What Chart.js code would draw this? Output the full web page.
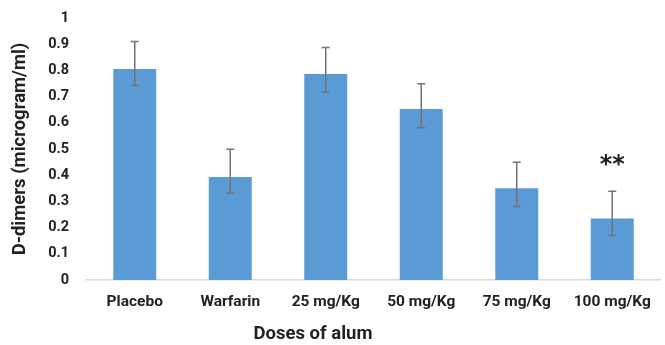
<!DOCTYPE html>
<html>
<head>
<meta charset="utf-8">
<script src="https://cdn.jsdelivr.net/npm/chart.js@4.4.0/dist/chart.umd.min.js"></script>
<style>
  html, body { margin: 0; padding: 0; background: #fff; }
  #wrap { width: 665px; height: 345px; }
</style>
</head>
<body>
<div id="wrap"><canvas id="ddimers" width="665" height="345"></canvas></div>
<script>
var categories = ["Placebo", "Warfarin", "25 mg/Kg", "50 mg/Kg", "75 mg/Kg", "100 mg/Kg"];
var means = [0.805, 0.393, 0.786, 0.653, 0.35, 0.235];
var errUpper = [0.91, 0.499, 0.887, 0.749, 0.449, 0.339];
var errLower = [0.742, 0.331, 0.718, 0.581, 0.281, 0.17];
var marks = ["", "", "", "", "", "**"];
var yTitle = "D-dimers (microgram/ml)";
var xTitle = "Doses of alum";

var FONT = "Roboto, 'DejaVu Sans', sans-serif";

// error bars + significance stars
var errorBars = {
    id: "errorBars",
    afterDatasetsDraw: function(chart) {
        var ctx = chart.ctx;
        var yScale = chart.scales.y;
        var meta = chart.getDatasetMeta(0);
        ctx.save();
        ctx.strokeStyle = "#737373";
        ctx.lineWidth = 1.5;
        meta.data.forEach(function(bar, i) {
            var x = bar.x;
            var yTop = yScale.getPixelForValue(errUpper[i]);
            var yBot = yScale.getPixelForValue(errLower[i]);
            ctx.beginPath();
            ctx.moveTo(x, yTop);
            ctx.lineTo(x, yBot);
            ctx.moveTo(x - 4, yTop);
            ctx.lineTo(x + 4, yTop);
            ctx.moveTo(x - 4, yBot);
            ctx.lineTo(x + 4, yBot);
            ctx.stroke();
            if (marks[i]) {
                ctx.fillStyle = "#222";
                ctx.font = "bold 24px 'DejaVu Sans', sans-serif";
                ctx.textAlign = "center";
                ctx.textBaseline = "middle";
                ctx.fillText(marks[i], x, yTop - 25);
            }
        });
        ctx.restore();
    }
};

// x axis title, centred a bit left like the original
var xAxisTitle = {
    id: "xAxisTitle",
    afterDraw: function(chart) {
        var ctx = chart.ctx;
        ctx.save();
        ctx.fillStyle = "#222";
        ctx.font = "bold 18.5px " + FONT;
        ctx.textAlign = "center";
        ctx.textBaseline = "middle";
        ctx.fillText(xTitle, 313, 334);
        ctx.restore();
    }
};

new Chart(document.getElementById("ddimers").getContext("2d"), {
    type: "bar",
    data: {
        labels: categories,
        datasets: [{
            label: "D-dimers",
            data: means,
            backgroundColor: "#5b9bd5",
            borderWidth: 0,
            categoryPercentage: 1,
            barPercentage: 0.45
        }]
    },
    options: {
        responsive: false,
        animation: false,
        layout: { padding: { top: 18, right: 5, left: 0, bottom: 0 } },
        plugins: {
            legend: { display: false },
            tooltip: { enabled: false }
        },
        scales: {
            x: {
                grid: { display: false, drawTicks: false },
                border: { display: true, color: "#d9d9d9", width: 1.5 },
                ticks: {
                    color: "#222",
                    padding: 13,
                    maxRotation: 0,
                    font: { family: FONT, size: 15.5, weight: "bold" }
                },
                afterFit: function(scale) { scale.height = 65; }
            },
            y: {
                min: 0,
                max: 1,
                grid: { display: false, drawTicks: false },
                border: { display: false },
                ticks: {
                    stepSize: 0.1,
                    color: "#222",
                    padding: 18,
                    font: { family: FONT, size: 14.5, weight: "bold" },
                    callback: function(v) { return Math.round(v * 10) / 10; }
                },
                title: {
                    display: true,
                    text: yTitle,
                    color: "#222",
                    padding: { top: 9, bottom: 0 },
                    font: { family: FONT, size: 18.5, weight: "bold" }
                },
                afterFit: function(scale) {
                    scale.width = 87;
                    scale.paddingTop = 9;
                    scale.paddingBottom = 9;
                }
            }
        }
    },
    plugins: [errorBars, xAxisTitle]
});
</script>
</body>
</html>
